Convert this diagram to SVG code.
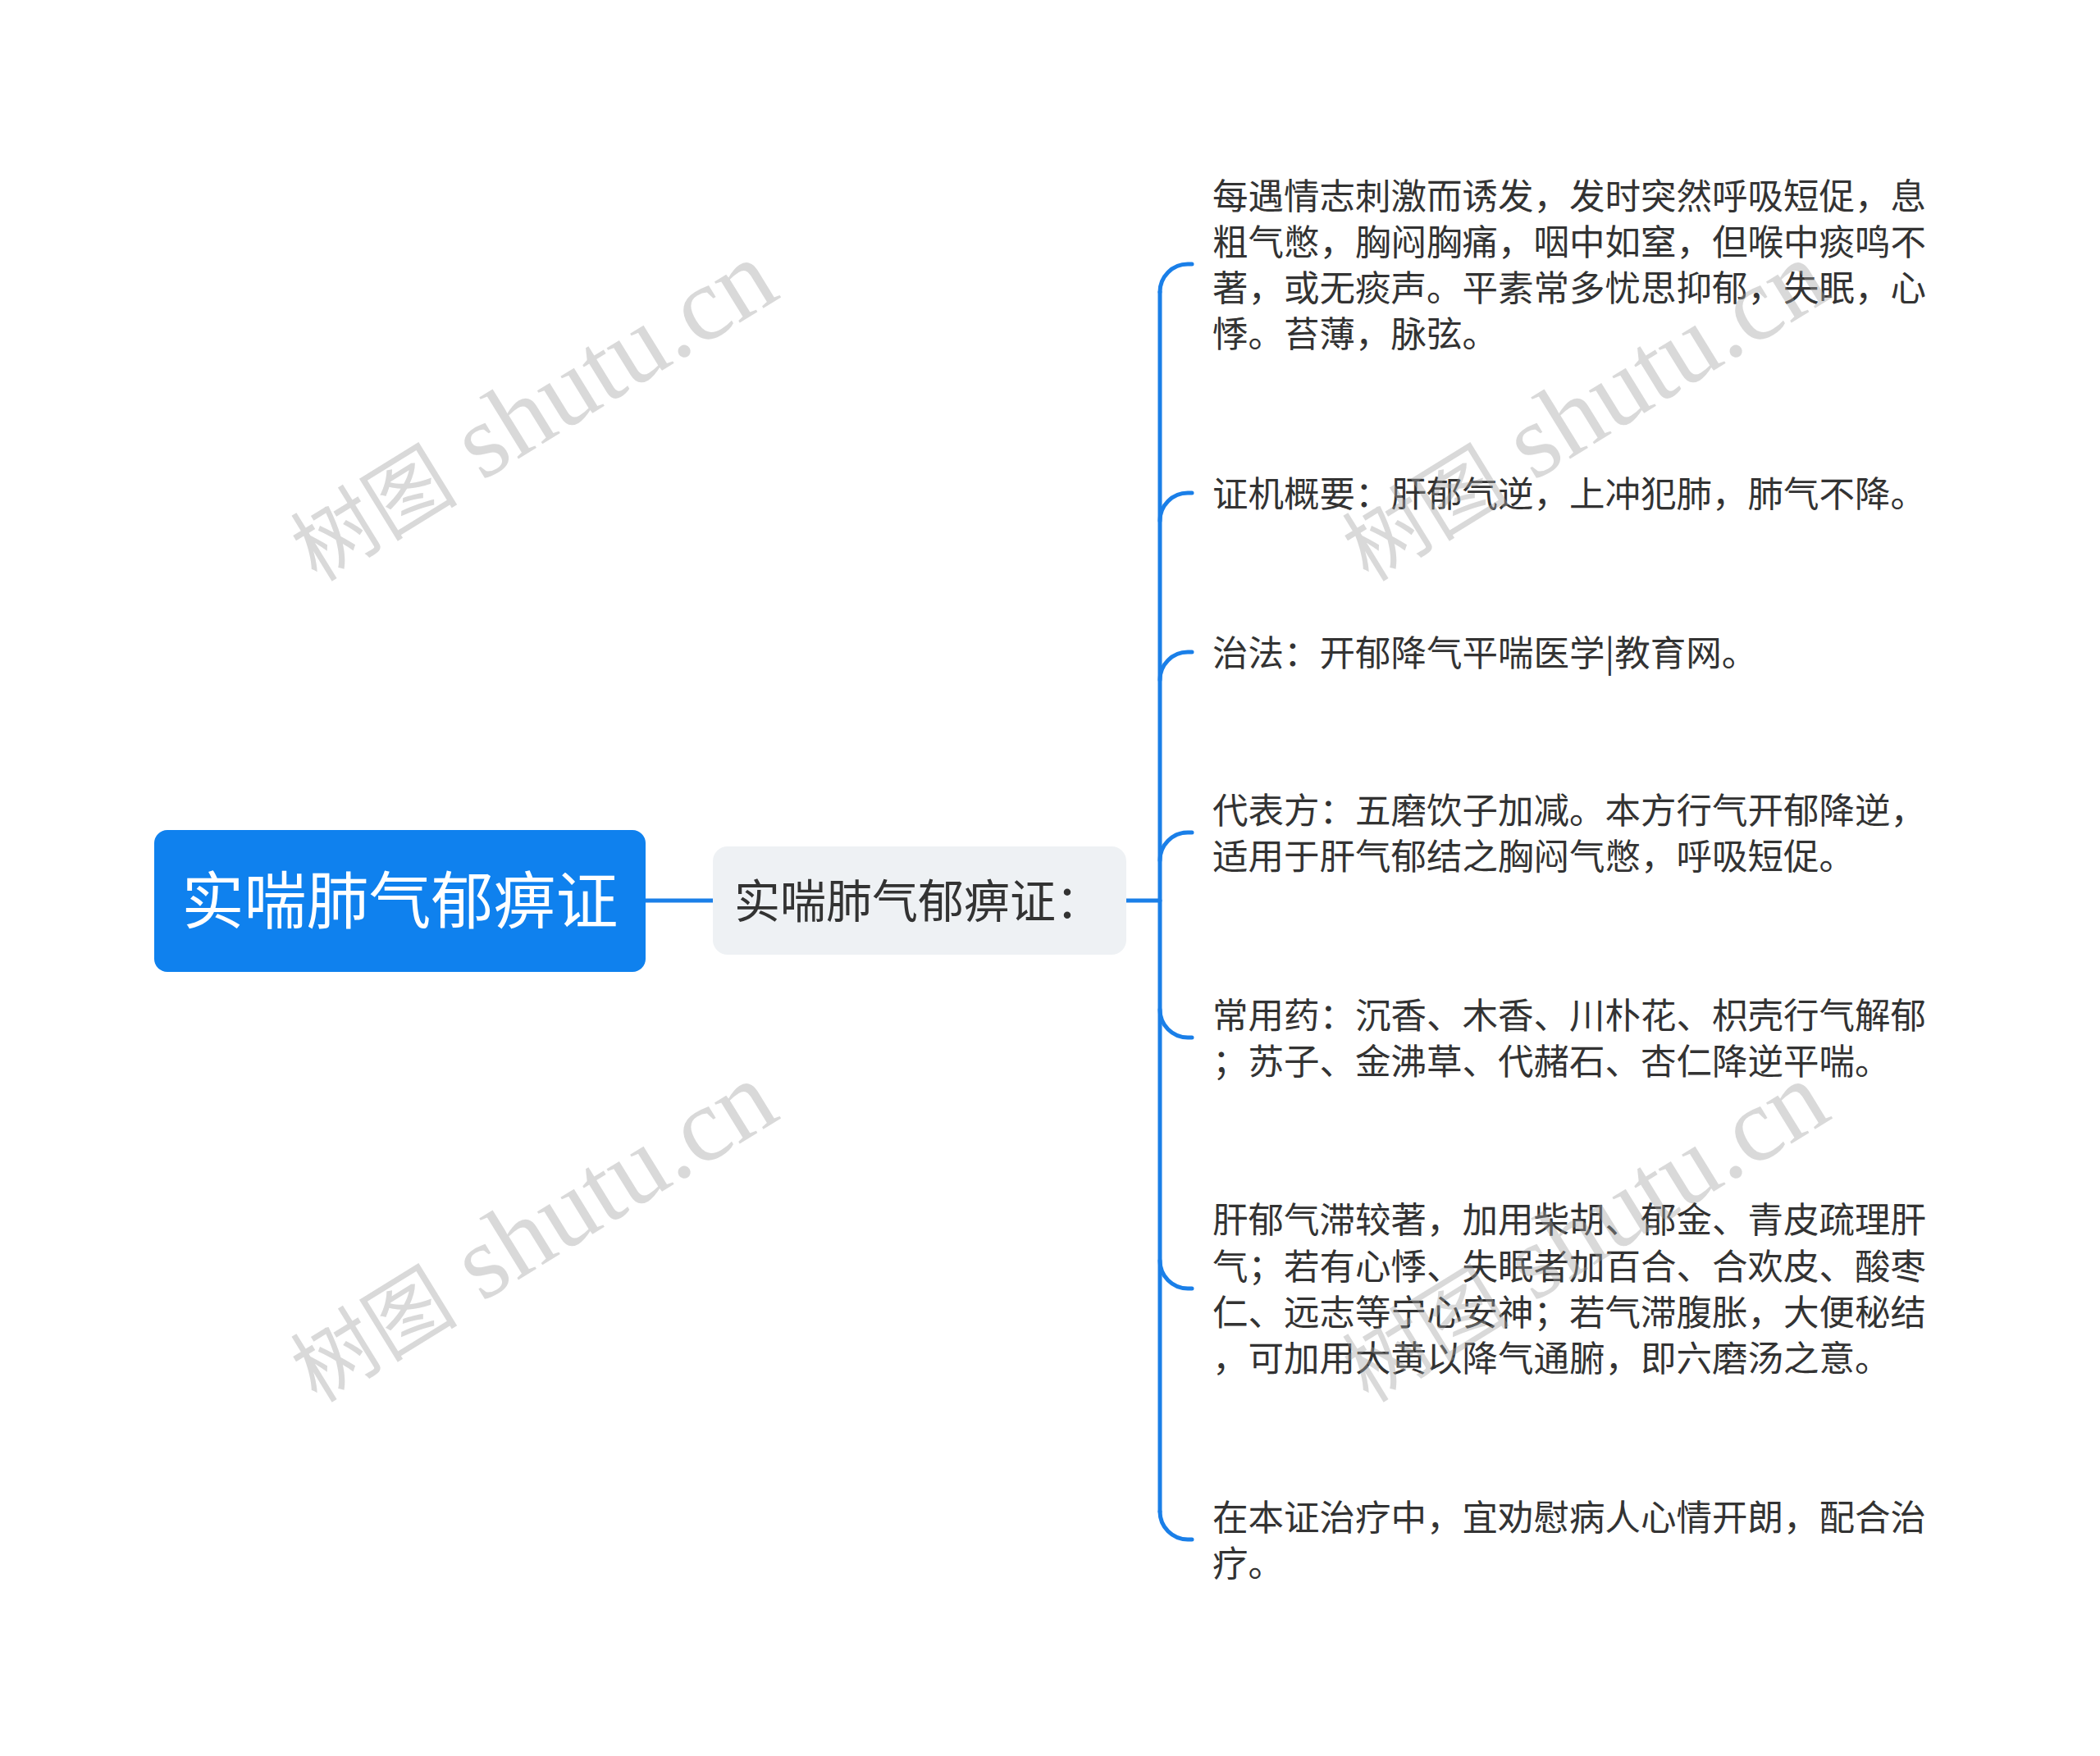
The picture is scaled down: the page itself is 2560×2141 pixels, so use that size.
<svg xmlns="http://www.w3.org/2000/svg" width="2560" height="2141" viewBox="0 0 2560 2141">
<style>
.t{font-family:"Noto Sans CJK SC","Noto Sans",sans-serif;font-size:43.5px;fill:#333333}
.c{fill:none;stroke:#1a7fe8;stroke-width:5;stroke-linecap:round}
.wm{font-family:"Liberation Serif","Noto Sans CJK SC",serif;font-size:128px;fill:#a0a0a0;fill-opacity:0.4}
.wz{font-size:102px}
</style>
<rect width="2560" height="2141" fill="#ffffff"/>
<g id="connectors">
<path class="c" d="M787 1098 H869"/>
<path class="c" d="M1373 1098 H1414"/>
<path class="c" d="M1414 356 V1843"/>
<path class="c" d="M1414 356 A34 34 0 0 1 1448 322 H1453"/>
<path class="c" d="M1414 635 A34 34 0 0 1 1448 601 H1453"/>
<path class="c" d="M1414 829 A34 34 0 0 1 1448 795 H1453"/>
<path class="c" d="M1414 1049 A34 34 0 0 1 1448 1015 H1453"/>
<path class="c" d="M1414 1231 A34 34 0 0 0 1448 1265 H1453"/>
<path class="c" d="M1414 1537 A34 34 0 0 0 1448 1571 H1453"/>
<path class="c" d="M1414 1843 A34 34 0 0 0 1448 1877 H1453"/>
</g>
<g id="root">
<rect x="188" y="1012" width="599" height="173" rx="16" fill="#0f81ee"/>
<text x="487.5" y="1126" text-anchor="middle" font-family="&quot;Noto Sans CJK SC&quot;,sans-serif" font-size="76" fill="#ffffff">实喘肺气郁痹证</text>
</g>
<g id="mid">
<rect x="869" y="1032" width="504" height="132" rx="18" fill="#eef1f4"/>
<text x="895" y="1119" font-family="&quot;Noto Sans CJK SC&quot;,sans-serif" font-size="56" fill="#333333">实喘肺气郁痹证：</text>
</g>
<g id="n1">
<text class="t" x="1478" y="255">每遇情志刺激而诱发，发时突然呼吸短促，息</text>
<text class="t" x="1478" y="311">粗气憋，胸闷胸痛，咽中如窒，但喉中痰鸣不</text>
<text class="t" x="1478" y="367">著，或无痰声。平素常多忧思抑郁，失眠，心</text>
<text class="t" x="1478" y="423">悸。苔薄，脉弦。</text>
</g>
<g id="n2">
<text class="t" x="1478" y="618">证机概要：肝郁气逆，上冲犯肺，肺气不降。</text>
</g>
<g id="n3">
<text class="t" x="1478" y="812">治法：开郁降气平喘医学|教育网。</text>
</g>
<g id="n4">
<text class="t" x="1478" y="1004">代表方：五磨饮子加减。本方行气开郁降逆，</text>
<text class="t" x="1478" y="1060">适用于肝气郁结之胸闷气憋，呼吸短促。</text>
</g>
<g id="n5">
<text class="t" x="1478" y="1254">常用药：沉香、木香、川朴花、枳壳行气解郁</text>
<text class="t" x="1478" y="1310">；苏子、金沸草、代赭石、杏仁降逆平喘。</text>
</g>
<g id="n6">
<text class="t" x="1478" y="1503">肝郁气滞较著，加用柴胡、郁金、青皮疏理肝</text>
<text class="t" x="1478" y="1560">气；若有心悸、失眠者加百合、合欢皮、酸枣</text>
<text class="t" x="1478" y="1616">仁、远志等宁心安神；若气滞腹胀，大便秘结</text>
<text class="t" x="1478" y="1672">，可加用大黄以降气通腑，即六磨汤之意。</text>
</g>
<g id="n7">
<text class="t" x="1478" y="1866">在本证治疗中，宜劝慰病人心情开朗，配合治</text>
<text class="t" x="1478" y="1922">疗。</text>
</g>
<g id="watermarks">
<text class="wm" text-anchor="middle" transform="translate(649 502) rotate(-31.6)" y="40"><tspan class="wz">树图</tspan> shutu.cn</text>
<text class="wm" text-anchor="middle" transform="translate(649 1503) rotate(-31.6)" y="40"><tspan class="wz">树图</tspan> shutu.cn</text>
<text class="wm" text-anchor="middle" transform="translate(1931 502) rotate(-31.6)" y="40"><tspan class="wz">树图</tspan> shutu.cn</text>
<text class="wm" text-anchor="middle" transform="translate(1931 1503) rotate(-31.6)" y="40"><tspan class="wz">树图</tspan> shutu.cn</text>
</g>
</svg>
